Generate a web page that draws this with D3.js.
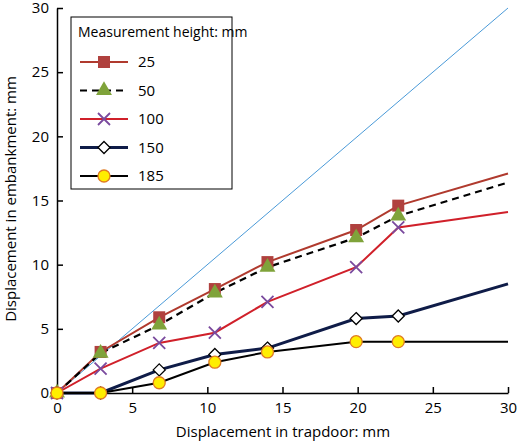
<!DOCTYPE html><html><head><script src="https://cdn.jsdelivr.net/npm/d3@7"></script>
<style>body{margin:0}text{font-family:"Open Sans",sans-serif}</style></head><body><svg width="520" height="441"></svg>
<script>
const xs=[0,2.9,6.8,10.5,14,19.9,22.7,30];
const s25=[0,3.2,5.9,8.1,10.2,12.7,14.6,17.1];
const s50=[0,3.1,5.3,7.8,9.8,12.1,13.8,16.4];
const s100=[0,1.9,3.9,4.7,7.1,9.8,12.9,14.1];
const s150=[0,0,1.8,3.0,3.5,5.8,6.0,8.5];
const s185=[0,0,0.8,2.4,3.2,4.0,4.0,4.0];
const ticks=[0,5,10,15,20,25,30];
const svg=d3.select("svg");
const x=d3.scaleLinear([0,30],[57,508]),y=d3.scaleLinear([0,30],[393,8]);
const gx=svg.append("g").attr("transform","translate(0,393)").call(d3.axisBottom(x).tickValues(ticks).tickSizeInner(-6).tickSizeOuter(0).tickPadding(9));
const gy=svg.append("g").attr("transform","translate(57,0)").call(d3.axisLeft(y).tickValues(ticks).tickSizeInner(-6).tickSizeOuter(0).tickPadding(8));
[gx,gy].forEach(g=>{g.selectAll("text").attr("font-size",15).attr("fill","#000").style("font-family","Open Sans");g.selectAll("line,path").attr("stroke","#000").attr("stroke-width",1.5);});
svg.append("text").attr("x",283).attr("y",437).attr("text-anchor","middle").attr("font-size",15).text("Displacement in trapdoor: mm");
svg.append("text").attr("transform","translate(16,199) rotate(-90)").attr("text-anchor","middle").attr("font-size",15).text("Displacement in embankment: mm");
svg.append("line").attr("x1",x(0)).attr("y1",y(0)).attr("x2",x(30)).attr("y2",y(30)).attr("stroke","#4a9ad8").attr("stroke-width",1);
const series=[
{n:"25",v:s25,c:"#b03a2e",w:2,d:null,m:"sq"},
{n:"50",v:s50,c:"#000",w:2.2,d:"7,5",m:"tri"},
{n:"100",v:s100,c:"#d0202a",w:2,d:null,m:"x"},
{n:"150",v:s150,c:"#0f1c48",w:3,d:null,m:"dia"},
{n:"185",v:s185,c:"#000",w:2,d:null,m:"circ"}];
const line=d3.line().x((d,i)=>x(xs[i])).y(d=>y(d));
function marker(g,m,px,py){
 if(m=="sq")g.append("rect").attr("x",px-6).attr("y",py-6).attr("width",12).attr("height",12).attr("fill","#b0413e");
 if(m=="tri")g.append("path").attr("d",d3.symbol(d3.symbolTriangle,110)()).attr("transform",`translate(${px},${py})`).attr("fill","#7fa33a");
 if(m=="x")g.append("path").attr("d",`M${px-6},${py-6}L${px+6},${py+6}M${px-6},${py+6}L${px+6},${py-6}`).attr("stroke","#7a4a9e").attr("stroke-width",1.8);
 if(m=="dia")g.append("path").attr("d",`M${px},${py-6}L${px+6},${py}L${px},${py+6}L${px-6},${py}Z`).attr("fill","#fff").attr("stroke","#000").attr("stroke-width",1.3);
 if(m=="circ")g.append("circle").attr("cx",px).attr("cy",py).attr("r",6).attr("fill","#ffee00").attr("stroke","#e07b22").attr("stroke-width",1.3);
}
series.forEach(s=>{
 svg.append("path").attr("d",line(s.v)).attr("fill","none").attr("stroke",s.c).attr("stroke-width",s.w).attr("stroke-dasharray",s.d);
});
series.forEach(s=>{const g=svg.append("g");s.v.slice(0,7).forEach((v,i)=>marker(g,s.m,x(xs[i]),y(v)));});
const lg=svg.append("g");
lg.append("rect").attr("x",71).attr("y",17).attr("width",161).attr("height",172).attr("fill","#fff").attr("stroke","#000").attr("stroke-width",1);
lg.append("text").attr("x",78).attr("y",37).attr("font-size",14).text("Measurement height: mm");
series.forEach((s,i)=>{const yy=62+i*28.5;
 lg.append("line").attr("x1",80).attr("x2",128).attr("y1",yy).attr("y2",yy).attr("stroke",s.c).attr("stroke-width",s.w).attr("stroke-dasharray",s.d);
 marker(lg,s.m,104,yy);
 lg.append("text").attr("x",138).attr("y",yy+5).attr("font-size",15).text(s.n);});
</script></body></html>
